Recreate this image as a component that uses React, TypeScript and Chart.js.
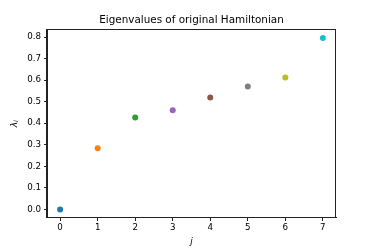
import React, { useEffect, useRef } from "react";
import { Chart, registerables } from "chart.js";

Chart.register(...registerables);

const indices = [0, 1, 2, 3, 4, 5, 6, 7];
const eigenvalues = [0.0, 0.284, 0.427, 0.46, 0.519, 0.57, 0.612, 0.795];
const pointColors = ["#1f77b4", "#ff7f0e", "#2ca02c", "#9467bd", "#8c564b", "#7f7f7f", "#bcbd22", "#17becf"];
const xTicks = [0, 1, 2, 3, 4, 5, 6, 7];
const yTicks = [0.0, 0.1, 0.2, 0.3, 0.4, 0.5, 0.6, 0.7, 0.8];
const titleText = "Eigenvalues of original Hamiltonian";
const xLabel = "j";
const yLabel = "λⱼ";

const FONT = "'DejaVu Sans', sans-serif";

const frame = {
  id: "frame",
  afterDraw(chart: any) {
    const { ctx, chartArea } = chart;
    const l = Math.round(chartArea.left) - 0.5;
    const t = Math.round(chartArea.top) + 0.5;
    const r = Math.round(chartArea.right) - 0.5;
    const b = Math.round(chartArea.bottom) - 0.5;
    ctx.save();
    ctx.strokeStyle = "#222";
    ctx.lineWidth = 1;
    ctx.strokeRect(l, t, r - l, b - t);
    ctx.restore();
  },
};

export default function App() {
  const ref = useRef<HTMLCanvasElement | null>(null);
  useEffect(() => {
    document.body.style.margin = "0";
    const chart = new Chart(ref.current!, {
      type: "scatter",
      data: {
        datasets: [
          {
            data: indices.map((j, i) => ({ x: j, y: eigenvalues[i] })),
            pointBackgroundColor: pointColors,
            pointBorderWidth: 0,
            pointRadius: 3,
            pointHoverRadius: 3,
          },
        ],
      },
      options: {
        animation: false,
        responsive: false,
        events: [],
        layout: { padding: { left: 0, right: 38, top: 0, bottom: 0 } },
        plugins: {
          legend: { display: false },
          tooltip: { enabled: false },
          title: {
            display: true,
            text: titleText,
            fullSize: false,
            color: "#000",
            font: { family: FONT, size: 10.4, weight: "normal" },
            padding: { top: 14, bottom: 3 },
          },
        },
        scales: {
          x: {
            type: "linear",
            min: -0.35,
            max: 7.35,
            afterBuildTicks: (s: any) => {
              s.ticks = xTicks.map((v) => ({ value: v }));
            },
            afterFit: (s: any) => {
              s.height = 31;
            },
            grid: { display: true, drawOnChartArea: false, drawTicks: true, tickLength: 3, tickColor: "#222" },
            border: { display: true, color: "#222", width: 1 },
            ticks: {
              color: "#000",
              padding: 2,
              maxRotation: 0,
              font: { family: FONT, size: 8.7 },
              callback: (v: any) => String(v),
            },
            title: {
              display: true,
              text: xLabel,
              color: "#000",
              font: { family: FONT, size: 9, style: "italic" },
              padding: { top: 0, bottom: 2 },
            },
          },
          y: {
            type: "linear",
            min: -0.04,
            max: 0.835,
            afterBuildTicks: (s: any) => {
              s.ticks = yTicks.map((v) => ({ value: v }));
            },
            afterFit: (s: any) => {
              s.width = 47;
            },
            grid: { display: true, drawOnChartArea: false, drawTicks: true, tickLength: 3, tickColor: "#222" },
            border: { display: true, color: "#222", width: 1 },
            ticks: {
              color: "#000",
              padding: 3,
              font: { family: FONT, size: 8.7 },
              callback: (v: any) => Number(v).toFixed(1),
            },
            title: {
              display: true,
              text: yLabel,
              color: "#000",
              font: { family: FONT, size: 9, style: "italic" },
              padding: { top: 9, bottom: 0 },
            },
          },
        },
      },
      plugins: [frame],
    });
    return () => chart.destroy();
  }, []);
  return (
    <div style={{ width: 374, height: 249 }}>
      <canvas ref={ref} width={374} height={249} />
    </div>
  );
}
